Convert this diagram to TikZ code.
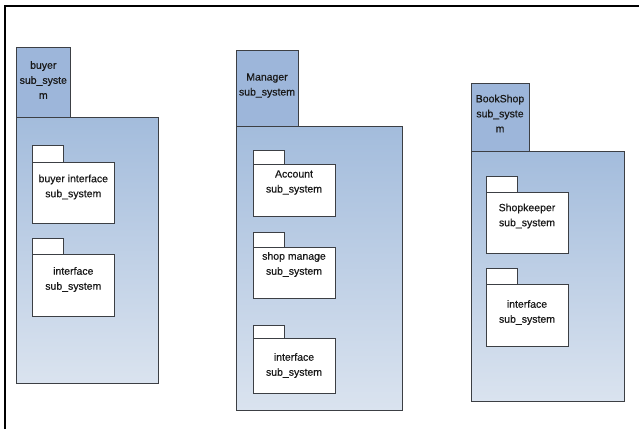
\documentclass[tikz,border=0pt]{standalone}
\usepackage{fontspec}
\setmainfont{Liberation Sans}
\newfontfamily\lblfont{Liberation Sans}[FakeBold=0.5]
\definecolor{tabfill}{HTML}{9DB6DA}
\definecolor{bodytop}{HTML}{A3BCDC}
\definecolor{bodybot}{HTML}{DAE3EF}
\definecolor{edge}{HTML}{3C3F44}
\tikzset{
  pkgline/.style={draw=edge, line width=0.9pt},
  tabbox/.style={pkgline, fill=tabfill},
  bodybox/.style={pkgline, top color=bodytop, bottom color=bodybot},
  whitebox/.style={pkgline, fill=white},
  lbl/.style={align=center, font=\lblfont\fontsize{10.5}{15}\selectfont\addfontfeature{FakeBold=0.5}, inner sep=0pt, text=black!90},
  frameline/.style={draw=black, line width=2.4pt}
}
% #1 name, #2 left x, #3 tab top, #4 body top, #5 body bottom, #6 text centre y, #7 text
\newcommand\innerpkg[7]{%
  \draw[whitebox] (#2,#3) rectangle (#2+31,#4);
  \draw[whitebox] (#2,#4) rectangle (#2+82,#5);
  \node[lbl] (#1) at (#2+41,#6) {#7};
}
\begin{document}
\begin{tikzpicture}[x=1pt,y=-1pt]
\useasboundingbox (0,0) rectangle (639,429);
\fill[white] (0,0) rectangle (639,429);
% frame
\draw[frameline] (5,429) -- (5,6) -- (639,6);

% buyer package
\draw[tabbox] (16,47) rectangle (70.5,117);
\draw[bodybox] (16,117) rectangle (158.5,383);
\node[lbl] (buyer) at (43.3,80) {buyer\\sub\_syste\\m};
\innerpkg{bi}{32.3}{145}{162}{223}{187}{buyer interface\\sub\_system}
\innerpkg{bint}{32.3}{238}{254}{316}{279.5}{interface\\sub\_system}

% manager package
\draw[tabbox] (236,50) rectangle (298,126.5);
\draw[bodybox] (236,126.5) rectangle (402,410);
\node[lbl] (manager) at (267,85.5) {Manager\\sub\_system};
\innerpkg{acc}{253}{150}{164}{216}{182.5}{Account\\sub\_system}
\innerpkg{shop}{253}{232}{247}{298}{264.5}{shop manage\\sub\_system}
\innerpkg{mint}{253}{325}{338}{393}{365.5}{interface\\sub\_system}

% bookshop package
\draw[tabbox] (471,83) rectangle (529,151);
\draw[bodybox] (471,151) rectangle (624,401);
\node[lbl] (bookshop) at (500,113.5) {BookShop\\sub\_syste\\m};
\innerpkg{keeper}{486}{176}{192}{253}{216}{Shopkeeper\\sub\_system}
\innerpkg{bsint}{486}{268}{284}{346}{312.5}{interface\\sub\_system}
\end{tikzpicture}
\end{document}
